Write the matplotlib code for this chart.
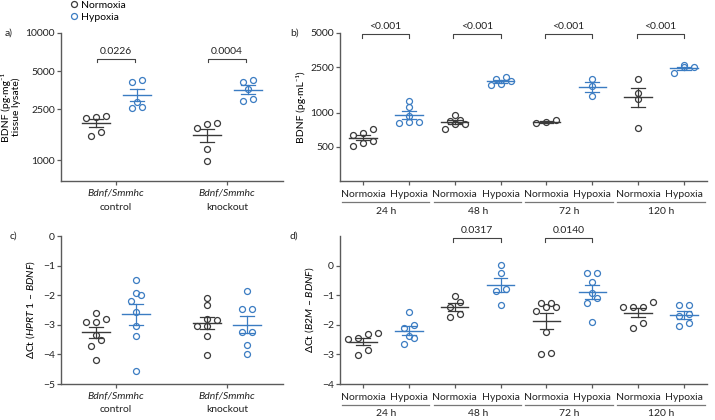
import numpy as np
import matplotlib
matplotlib.use("Agg")
import matplotlib.pyplot as plt
from matplotlib.lines import Line2D
from matplotlib.ticker import NullLocator
from matplotlib.transforms import offset_copy

plt.rcParams["font.family"] = ["Lato", "DejaVu Sans"]
plt.rcParams["font.size"] = 7.5
plt.rcParams["mathtext.fontset"] = "custom"
plt.rcParams["mathtext.rm"] = "Lato"
plt.rcParams["mathtext.it"] = "Lato:italic"

# === DATA ===
groups_ac = ["control", "knockout"]
times = ["24 h", "48 h", "72 h", "120 h"]

# a) BDNF pg/mg tissue lysate
a_ctrl_norm = [2190, 2230, 2140, 1545, 1660]
a_ctrl_hyp = [4270, 4110, 2550, 2850, 2600]
a_ko_norm = [1945, 1800, 1910, 1220, 985]
a_ko_hyp = [4300, 4150, 3600, 2900, 3000]
a_pvals = ["0.0226", "0.0004"]

# b) BDNF pg/mL
b_24_norm = [720, 660, 640, 560, 540, 505]
b_24_hyp = [1260, 1110, 940, 810, 830, 820]
b_48_norm = [950, 790, 870, 800, 840, 720]
b_48_hyp = [1970, 1880, 2060, 1735, 1780]
b_72_norm = [805, 870, 825]
b_72_hyp = [1960, 1710, 1405]
b_120_norm = [1980, 1490, 1305, 735]
b_120_hyp = [2600, 2500, 2500, 2250]
b_pvals = ["<0.001", "<0.001", "<0.001", "<0.001"]

# c) dCt (HPRT1 - BDNF)
c_ctrl_norm = [-2.60, -2.82, -2.92, -2.92, -3.36, -3.52, -3.72, -4.20]
c_ctrl_hyp = [-1.47, -1.94, -2.01, -2.19, -2.56, -3.05, -3.38, -4.55]
c_ko_norm = [-2.09, -2.34, -2.84, -2.81, -3.03, -3.03, -3.38, -4.01]
c_ko_hyp = [-1.86, -2.47, -2.47, -3.24, -3.24, -3.67, -4.00]

# d) dCt (B2M - BDNF)
d_24_norm = [-2.31, -2.29, -2.48, -2.45, -2.85, -3.02]
d_24_hyp = [-1.56, -2.01, -2.12, -2.38, -2.46, -2.65]
d_48_norm = [-1.03, -1.23, -1.39, -1.62, -1.75]
d_48_hyp = [0.01, -0.25, -0.80, -0.87, -1.34]
d_72_norm = [-1.26, -1.39, -1.26, -1.39, -1.53, -2.24, -3.00, -2.96]
d_72_hyp = [-0.24, -0.24, -0.55, -0.94, -1.11, -1.26, -1.90]
d_120_norm = [-1.41, -1.41, -1.24, -1.41, -1.95, -2.10]
d_120_hyp = [-1.34, -1.34, -1.70, -1.65, -2.04, -1.95]
d_pvals = {1: "0.0317", 2: "0.0140"}

NORM = "#3a3a3a"
HYP = "#3b7cc2"
AXC = "#5a5a5a"

W, H = 715, 420
fig = plt.figure(figsize=(W / 100, H / 100), dpi=100)


def add_ax(l, t, r, b):
    return fig.add_axes([l / W, 1 - b / H, (r - l) / W, (b - t) / H])


def style(ax):
    for s in ["top", "right"]:
        ax.spines[s].set_visible(False)
    for s in ["left", "bottom"]:
        ax.spines[s].set_color(AXC)
        ax.spines[s].set_linewidth(1.0)
    ax.tick_params(length=2.8, width=0.9, color=AXC, pad=1.5, labelcolor="#222222")
    ax.yaxis.set_minor_locator(NullLocator())


def swarm(ax, xc, vals, step=10.0, tol=6.0):
    # simple row-based scatter like the original dot plots
    pts = ax.transData.transform(np.column_stack([np.full(len(vals), xc), vals]))
    order = np.argsort(pts[:, 1])
    rows = []
    for i in order:
        if rows and pts[i, 1] - pts[rows[-1][0], 1] < tol:
            rows[-1].append(i)
        else:
            rows.append([i])
    offs = np.zeros(len(vals))
    for r in rows:
        n = len(r)
        for k, i in enumerate(r):
            offs[i] = (k - (n - 1) / 2) * step
    back = ax.transData.inverted().transform(np.column_stack([pts[:, 0] + offs, pts[:, 1]]))
    return back[:, 0]


def dots(ax, xc, vals, color, hw, cw):
    vals = np.asarray(vals, dtype=float)
    xs = swarm(ax, xc, vals)
    ax.plot(xs, vals, "o", ms=4.3, mfc="none", mec=color, mew=0.9, zorder=3, clip_on=False)
    m = vals.mean()
    s = vals.std(ddof=1) / np.sqrt(len(vals))
    ax.plot([xc - hw, xc + hw], [m, m], color=color, lw=1.0, zorder=2)
    ax.plot([xc, xc], [m - s, m + s], color=color, lw=0.9, zorder=2)
    for yy in (m - s, m + s):
        ax.plot([xc - cw, xc + cw], [yy, yy], color=color, lw=0.9, zorder=2)


def bracket(ax, x1, x2, y, ylo, text):
    ax.plot([x1, x1, x2, x2], [ylo, y, y, ylo], color="#444444", lw=0.8, clip_on=False)
    ax.annotate(text, (0.5 * (x1 + x2), y), xytext=(0, 2.5), textcoords="offset points",
                ha="center", va="bottom", fontsize=7.5, color="#222222")


def ac_xlabels(ax):
    tr1 = offset_copy(ax.get_xaxis_transform(), fig=fig, y=-12.5, units="dots")
    tr2 = offset_copy(ax.get_xaxis_transform(), fig=fig, y=-26, units="dots")
    for i, g in enumerate(groups_ac):
        ax.text(i + 1, 0, "Bdnf/Smmhc", style="italic", ha="center", va="center",
                transform=tr1, fontsize=7.5, color="#222222")
        ax.text(i + 1, 0, g, ha="center", va="center", transform=tr2,
                fontsize=7.5, color="#222222")


def bd_xlabels(ax):
    ax.set_xticks(range(8))
    ax.set_xticklabels(["Normoxia", "Hypoxia"] * 4)
    ax.tick_params(axis="x", pad=3.5)
    trl = offset_copy(ax.get_xaxis_transform(), fig=fig, y=-20.5, units="dots")
    trt = offset_copy(ax.get_xaxis_transform(), fig=fig, y=-30, units="dots")
    for i, t in enumerate(times):
        ax.plot([2 * i - 0.46, 2 * i + 1.45], [0, 0], color="#777777", lw=0.9,
                transform=trl, clip_on=False)
        ax.text(2 * i + 0.5, 0, t, ha="center", va="center", transform=trt,
                fontsize=7.5, color="#222222")


# === PANEL a ===
ax = add_ax(61, 33, 283, 181)
style(ax)
ax.set_yscale("log")
ax.set_ylim(684, 10000)
ax.set_xlim(0.505, 2.505)
ax.set_yticks([1000, 2500, 5000, 10000])
ax.set_yticklabels(["1000", "2500", "5000", "10000"])
ax.yaxis.set_minor_locator(NullLocator())
ax.set_xticks([1, 2])
ax.set_xticklabels([])
ax.set_ylabel("BDNF (pg·mg⁻¹\ntissue lysate)", fontsize=7.5, labelpad=3, linespacing=1.1)
for i, (n, h) in enumerate([(a_ctrl_norm, a_ctrl_hyp), (a_ko_norm, a_ko_hyp)]):
    dots(ax, i + 1 - 0.18, n, NORM, 0.125, 0.065)
    dots(ax, i + 1 + 0.19, h, HYP, 0.125, 0.065)
    bracket(ax, i + 1 - 0.17, i + 1 + 0.17, 6240, 5950, a_pvals[i])
ac_xlabels(ax)

# === PANEL b ===
ax = add_ax(340, 33, 707, 181)
style(ax)
ax.set_yscale("log")
ax.set_ylim(251, 5000)
ax.set_xlim(-0.5, 7.5)
ax.set_yticks([500, 1000, 2500, 5000])
ax.set_yticklabels(["500", "1000", "2500", "5000"])
ax.yaxis.set_minor_locator(NullLocator())
ax.set_ylabel("BDNF (pg·mL⁻¹)", fontsize=7.5, labelpad=3)
b_sets = [(b_24_norm, b_24_hyp), (b_48_norm, b_48_hyp), (b_72_norm, b_72_hyp), (b_120_norm, b_120_hyp)]
for i, (n, h) in enumerate(b_sets):
    dots(ax, 2 * i, n, NORM, 0.3, 0.15)
    dots(ax, 2 * i + 1, h, HYP, 0.3, 0.15)
    bracket(ax, 2 * i - 0.03, 2 * i + 1, 4870, 4560, b_pvals[i])
bd_xlabels(ax)

# === PANEL c ===
ax = add_ax(61, 236, 283, 384)
style(ax)
ax.set_ylim(-5, 0)
ax.set_xlim(0.505, 2.505)
ax.set_yticks([0, -1, -2, -3, -4, -5])
ax.set_xticks([1, 2])
ax.set_xticklabels([])
ax.set_ylabel(r"ΔCt $\mathit{(HPRT\ 1\ –\ BDNF)}$", fontsize=7.5, labelpad=4)
for i, (n, h) in enumerate([(c_ctrl_norm, c_ctrl_hyp), (c_ko_norm, c_ko_hyp)]):
    dots(ax, i + 1 - 0.18, n, NORM, 0.125, 0.065)
    dots(ax, i + 1 + 0.18, h, HYP, 0.125, 0.065)
ac_xlabels(ax)

# === PANEL d ===
ax = add_ax(340, 236, 707, 384)
style(ax)
ax.set_ylim(-4, 1)
ax.set_xlim(-0.5, 7.5)
ax.set_yticks([0, -1, -2, -3, -4])
ax.set_ylabel(r"ΔCt $\mathit{(B2M\ –\ BDNF)}$", fontsize=7.5, labelpad=4)
d_sets = [(d_24_norm, d_24_hyp), (d_48_norm, d_48_hyp), (d_72_norm, d_72_hyp), (d_120_norm, d_120_hyp)]
for i, (n, h) in enumerate(d_sets):
    dots(ax, 2 * i, n, NORM, 0.3, 0.15)
    dots(ax, 2 * i + 1, h, HYP, 0.3, 0.15)
    if i in d_pvals:
        bracket(ax, 2 * i - 0.03, 2 * i + 1, 0.93, 0.80, d_pvals[i])
bd_xlabels(ax)

# panel letters
for lab, x, y in [("a)", 5, 33), ("b)", 290, 33), ("c)", 10, 236), ("d)", 290, 236)]:
    fig.text(x / W, 1 - y / H, lab, ha="left", va="center", fontsize=7.5, color="#222222")

# legend
handles = [Line2D([], [], ls="none", marker="o", ms=4.3, mfc="none", mec=c, mew=0.9) for c in (NORM, HYP)]
fig.legend(handles, ["Normoxia", "Hypoxia"], loc="upper left", bbox_to_anchor=(70 / W, 1.0),
           frameon=False, handlelength=0.7, handletextpad=0.3, labelspacing=0.25,
           borderpad=0.05, borderaxespad=0, fontsize=7.5)

fig.savefig("out.png", dpi=100)
